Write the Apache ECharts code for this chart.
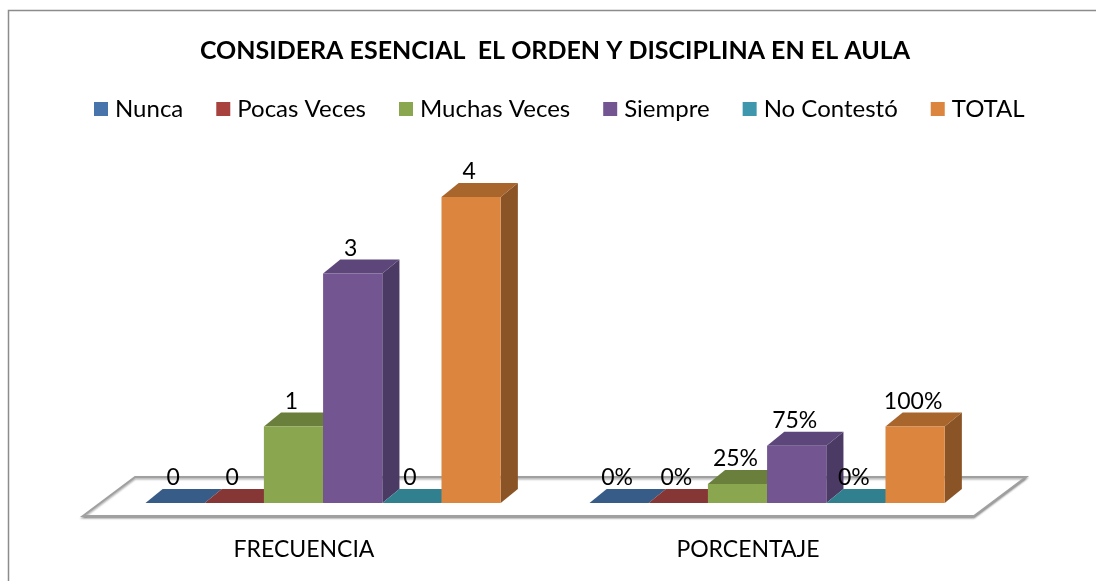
<!DOCTYPE html>
<html>
<head>
<meta charset="utf-8">
<script src="https://cdn.jsdelivr.net/npm/echarts@6/dist/echarts.min.js"></script>
<style>
  html, body { margin: 0; padding: 0; background: #ffffff; }
  #chart { width: 1096px; height: 581px; }
</style>
</head>
<body>
<div id="chart"></div>
<script>
// Categories on the x axis
const categories = ['FRECUENCIA', 'PORCENTAJE'];

// One array per answer: [frecuencia, porcentaje as a fraction of the total]
const nunca      = [0, 0];
const pocasVeces = [0, 0];
const muchasVeces = [1, 0.25];
const siempre    = [3, 0.75];
const noContesto = [0, 0];
const total      = [4, 1];

const seriesNames = ['Nunca', 'Pocas Veces', 'Muchas Veces', 'Siempre', 'No Contestó', 'TOTAL'];
const seriesValues = [nunca, pocasVeces, muchasVeces, siempre, noContesto, total];

// Front face colours; top and side faces are shaded from these
const frontColors = ['#4674ab', '#a8423f', '#8aa74f', '#735592', '#3f97ae', '#dc853f'];
const topColors   = ['#375c87', '#863634', '#6a7f3b', '#5d477a', '#31808f', '#a8652c'];
const sideColors  = ['#2e4c70', '#6e2c2a', '#566830', '#4b3a64', '#286a77', '#8b5426'];

const FONT = 'Lato, "Open Sans", sans-serif';

function fmtLabel(catIdx, v) {
  return catIdx === 1 ? Math.round(v * 100) + '%' : String(v);
}

// Draws one 3D column: side face, top face, front face, then its value label
function renderColumn(params, api) {
  const si = params.seriesIndex - 1; // series 0 is the floor
  const catIdx = api.value(0);
  const v = api.value(1);
  const base = api.coord([catIdx, 0]);
  const top = api.coord([catIdx, v]);
  const band = api.size([1, 0])[0];
  const bw = band / 7.5;
  const shift = band * 0.043;
  const dx = bw * 0.29;
  const dy = bw * 0.235;
  const x0 = base[0] + shift - 3 * bw + si * bw;
  const x1 = x0 + bw;
  const yb = base[1];
  const yt = top[1];

  const children = [];
  // right side face
  children.push({
    type: 'polygon',
    shape: { points: [[x1, yb], [x1 + dx, yb - dy], [x1 + dx, yt - dy], [x1, yt]] },
    style: { fill: sideColors[si] }
  });
  // top face
  children.push({
    type: 'polygon',
    shape: { points: [[x0, yt], [x1, yt], [x1 + dx, yt - dy], [x0 + dx, yt - dy]] },
    style: { fill: topColors[si] }
  });
  // front face
  if (yb - yt > 0.5) {
    children.push({
      type: 'rect',
      shape: { x: x0, y: yt, width: bw, height: yb - yt },
      style: { fill: frontColors[si] }
    });
  }
  // value label above the column
  children.push({
    type: 'text',
    style: {
      x: x0 + bw / 2 - 2,
      y: yt - dy,
      text: fmtLabel(catIdx, v),
      fill: '#000000',
      font: '23px ' + FONT,
      textAlign: 'center',
      textVerticalAlign: 'bottom'
    },
    z2: 10
  });
  return { type: 'group', children: children };
}

// Floor plane drawn under the columns
function renderFloor(params, api) {
  const cs = params.coordSys;
  const yb = cs.y + cs.height;
  const band = cs.width / categories.length;
  const bw = band / 7.5;
  const front = yb + bw * 0.22;
  const back = yb - bw * 0.44;
  const sx = bw * 0.88;
  const l = cs.x + 1;
  const r = cs.x + cs.width + 4;
  return {
    type: 'polygon',
    shape: { points: [[l, front], [r, front], [r + sx, back], [l + sx, back]] },
    style: {
      fill: '#ffffff',
      stroke: '#a0a0a0',
      lineWidth: 2,
      shadowColor: 'rgba(0,0,0,0.35)',
      shadowBlur: 2,
      shadowOffsetY: 1.5
    }
  };
}

const series = [{
  type: 'custom',
  name: 'floor',
  silent: true,
  renderItem: renderFloor,
  data: [[0, 0]],
  z: 1
}];
seriesNames.forEach(function (name, i) {
  series.push({
    type: 'custom',
    name: name,
    itemStyle: { color: frontColors[i] },
    renderItem: renderColumn,
    data: categories.map(function (c, ci) { return [ci, seriesValues[i][ci]]; }),
    z: 2
  });
});

const chart = echarts.init(document.getElementById('chart'), null, { renderer: 'canvas' });
chart.setOption({
  backgroundColor: '#ffffff',
  animation: false,
  title: {
    text: 'CONSIDERA ESENCIAL  EL ORDEN Y DISCIPLINA EN EL AULA',
    left: 550,
    top: 33,
    textAlign: 'center',
    textStyle: { fontFamily: FONT, fontWeight: 'bold', fontSize: 25, color: '#000000' }
  },
  legend: {
    data: seriesNames,
    left: 89,
    top: 92,
    icon: 'rect',
    itemWidth: 14,
    itemHeight: 14,
    itemGap: 33,
    textStyle: { fontFamily: FONT, fontSize: 24, color: '#000000', padding: [0, 0, 0, 2] }
  },
  grid: { left: 82, right: 126, top: 120.5, bottom: 78 },
  xAxis: {
    type: 'category',
    data: categories,
    axisLine: { show: false },
    axisTick: { show: false },
    axisLabel: { margin: 35, fontFamily: FONT, fontSize: 23, color: '#000000' }
  },
  yAxis: {
    type: 'value',
    min: 0,
    max: 5,
    show: false,
    splitLine: { show: false }
  },
  graphic: [{
    type: 'rect',
    shape: { x: 8.5, y: 10.5, width: 1100, height: 600 },
    style: { fill: 'none', stroke: '#8c8c8c', lineWidth: 1.5 },
    z: -1,
    silent: true
  }],
  series: series
});
</script>
</body>
</html>
